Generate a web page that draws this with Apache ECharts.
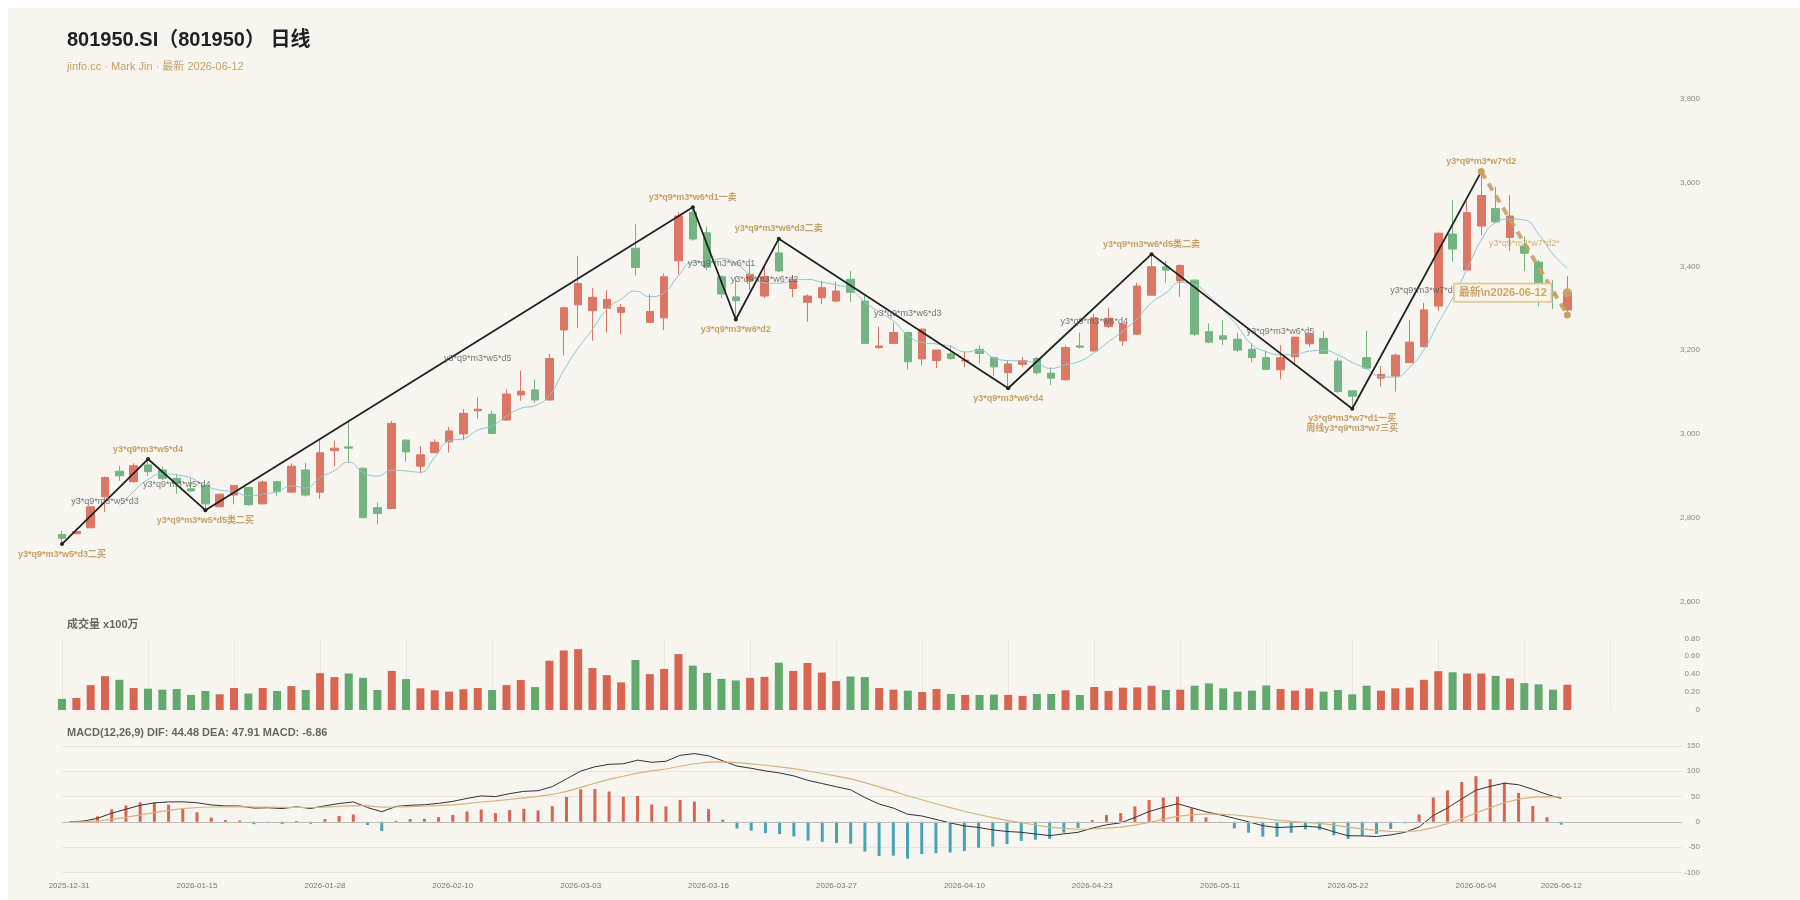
<!DOCTYPE html>
<html><head><meta charset="utf-8">
<script src="https://cdn.jsdelivr.net/npm/echarts/dist/echarts.min.js"></script>
<style>
html,body{margin:0;padding:0;background:#fff;overflow:hidden;}
#c{position:absolute;left:8px;top:8px;width:1792px;height:892px;background:#f7f5f0;}
</style></head><body><div id="c"></div>
<script>
// ---------- data ----------
const dates = [
'2025-12-31',
'2026-01-05','2026-01-06','2026-01-07','2026-01-08','2026-01-09',
'2026-01-12','2026-01-13','2026-01-14','2026-01-15','2026-01-16',
'2026-01-19','2026-01-20','2026-01-21','2026-01-22','2026-01-23',
'2026-01-26','2026-01-27','2026-01-28','2026-01-29','2026-01-30',
'2026-02-02','2026-02-03','2026-02-04','2026-02-05','2026-02-06',
'2026-02-09','2026-02-10','2026-02-11','2026-02-12','2026-02-13',
'2026-02-24','2026-02-25','2026-02-26','2026-02-27',
'2026-03-02','2026-03-03','2026-03-04','2026-03-05','2026-03-06',
'2026-03-09','2026-03-10','2026-03-11','2026-03-12','2026-03-13',
'2026-03-16','2026-03-17','2026-03-18','2026-03-19','2026-03-20',
'2026-03-23','2026-03-24','2026-03-25','2026-03-26','2026-03-27',
'2026-03-30','2026-03-31',
'2026-04-01','2026-04-02','2026-04-03',
'2026-04-07','2026-04-08','2026-04-09','2026-04-10',
'2026-04-13','2026-04-14','2026-04-15','2026-04-16','2026-04-17',
'2026-04-20','2026-04-21','2026-04-22','2026-04-23','2026-04-24',
'2026-04-27','2026-04-28','2026-04-29','2026-04-30',
'2026-05-06','2026-05-07','2026-05-08',
'2026-05-11','2026-05-12','2026-05-13','2026-05-14','2026-05-15',
'2026-05-18','2026-05-19','2026-05-20','2026-05-21','2026-05-22',
'2026-05-25','2026-05-26','2026-05-27','2026-05-28','2026-05-29',
'2026-06-01','2026-06-02','2026-06-03','2026-06-04','2026-06-05',
'2026-06-08','2026-06-09','2026-06-10','2026-06-11','2026-06-12'
];
const padCount = 8;

const opens = [
2760,2762,2776,2850,2911,2886,2926,2914,2894,2869,
2876,2826,2854,2872,2833,2886,2861,2914,2861,2960,
2969,2918,2824,2822,2985,2923,2955,2981,3000,3055,
3047,3033,3093,3105,3081,3248,3308,3294,3300,3290,
3443,3266,3277,3413,3529,3480,3375,3327,3366,3329,
3432,3347,3314,3325,3317,3369,3317,3206,3216,3242,
3179,3175,3191,3174,3202,3182,3146,3166,3180,3145,
3129,3210,3198,3256,3222,3238,3331,3399,3365,3367,
3244,3234,3226,3202,3182,3153,3184,3215,3228,3174,
3103,3182,3133,3138,3170,3208,3305,3477,3391,3496,
3538,3469,3448,3410,3336,3296
];
const closes = [
2751,2767,2826,2896,2900,2924,2910,2894,2882,2864,
2833,2856,2877,2831,2885,2862,2923,2854,2955,2966,
2966,2800,2810,3025,2957,2950,2980,3007,3049,3059,
3001,3095,3102,3081,3180,3301,3359,3326,3321,3302,
3397,3292,3375,3520,3465,3398,3334,3318,3381,3375,
3389,3369,3329,3349,3341,3338,3216,3210,3242,3172,
3250,3200,3180,3176,3192,3160,3167,3175,3146,3133,
3206,3207,3277,3276,3262,3353,3399,3391,3402,3238,
3219,3226,3200,3182,3154,3182,3231,3238,3192,3101,
3090,3157,3142,3188,3219,3296,3479,3441,3528,3569,
3506,3520,3431,3358,3330,3337
];
const lows = [
2737,2760,2775,2814,2888,2883,2899,2890,2857,2862,
2818,2825,2832,2828,2832,2852,2860,2850,2845,2923,
2930,2798,2784,2821,2934,2906,2954,2955,2985,3037,
3000,3031,3079,3074,3079,3187,3253,3222,3242,3238,
3378,3266,3248,3381,3461,3390,3324,3273,3343,3324,
3387,3326,3268,3310,3314,3315,3215,3203,3215,3154,
3163,3157,3176,3159,3168,3138,3109,3159,3141,3117,
3127,3204,3196,3253,3210,3236,3331,3361,3327,3234,
3216,3212,3196,3171,3152,3130,3164,3208,3191,3097,
3060,3154,3113,3101,3170,3207,3293,3411,3389,3475,
3503,3437,3389,3305,3298,3284
];
const highs = [
2769,2776,2828,2898,2924,2930,2940,2922,2904,2894,
2878,2858,2877,2873,2889,2888,2930,2931,2985,2984,
3029,2920,2836,3031,2987,2971,2987,3017,3059,3087,
3055,3106,3151,3130,3191,3304,3425,3348,3343,3310,
3501,3333,3383,3529,3541,3495,3379,3375,3403,3401,
3466,3379,3333,3365,3363,3389,3331,3256,3266,3244,
3252,3200,3212,3196,3212,3184,3176,3183,3184,3159,
3211,3242,3286,3301,3264,3361,3429,3413,3405,3369,
3264,3272,3242,3216,3199,3212,3232,3240,3246,3182,
3103,3246,3162,3192,3272,3313,3480,3558,3555,3626,
3590,3570,3472,3415,3367,3377
];
// 成交量 (x100万)
const volumes = [
0.124,0.135,0.278,0.378,0.337,0.245,0.238,0.227,0.234,0.168,
0.212,0.176,0.245,0.183,0.245,0.212,0.267,0.223,0.411,0.367,
0.407,0.359,0.223,0.436,0.345,0.242,0.220,0.205,0.231,0.245,
0.223,0.278,0.334,0.256,0.550,0.664,0.679,0.469,0.389,0.308,
0.558,0.400,0.458,0.624,0.495,0.414,0.348,0.330,0.359,0.370,
0.528,0.436,0.525,0.418,0.323,0.374,0.367,0.245,0.227,0.216,
0.201,0.234,0.179,0.168,0.168,0.172,0.168,0.157,0.179,0.179,
0.220,0.168,0.256,0.212,0.249,0.252,0.271,0.223,0.227,0.271,
0.297,0.242,0.205,0.216,0.274,0.234,0.216,0.242,0.205,0.223,
0.175,0.271,0.216,0.242,0.249,0.337,0.433,0.421,0.407,0.407,
0.381,0.352,0.300,0.286,0.227,0.282
];

// 笔 (zigzag) pivots
const pivotIdx  = [0, 6, 10, 44, 47, 50, 66, 76, 90, 99];
const pivotKind = ['low','high','low','high','low','high','low','high','low','high'];
const pivotText = [
'y3*q9*m3*w5*d3二买','y3*q9*m3*w5*d4','y3*q9*m3*w5*d5类二买',
'y3*q9*m3*w6*d1一卖','y3*q9*m3*w6*d2','y3*q9*m3*w6*d3二卖',
'y3*q9*m3*w6*d4','y3*q9*m3*w6*d5类二卖',
'y3*q9*m3*w7*d1一买\n周线y3*q9*m3*w7三买','y3*q9*m3*w7*d2'
];
const segText = [
'y3*q9*m3*w5*d3','y3*q9*m3*w5*d4','y3*q9*m3*w5*d5','y3*q9*m3*w6*d1',
'y3*q9*m3*w6*d2','y3*q9*m3*w6*d3','y3*q9*m3*w6*d4','y3*q9*m3*w6*d5','y3*q9*m3*w7*d1'
];
const segLabelIdx = [3, 8, 29, 46, 49, 59, 72, 85, 95];
// pending stroke (dashed)
const pendingIdx = [99, 105];
const pendingText = 'y3*q9*m3*w7*d2*';
const pendingLabelIdx = 102;
const latestText = '最新\\n2026-06-12';

const priceTicks = [2600, 3800, 200];
const volTicks = [0, 0.8, 0.2];
const macdTicks = [-100, 150, 50];

const titleText = '801950.SI（801950） 日线';
const subText = 'jinfo.cc · Mark Jin · 最新 2026-06-12';
const volTitle = '成交量 x100万';
const macdTitle = 'MACD(12,26,9) DIF: 44.48 DEA: 47.91 MACD: -6.86';

// ---------- derived ----------
const N = dates.length;
const cats = dates.concat(new Array(padCount).fill(''));
const pivotVal = pivotIdx.map((i,k)=> pivotKind[k]==='high' ? highs[i] : lows[i]);
const ohlc = opens.map((o,i)=>[o, closes[i], lows[i], highs[i]]);
const ma5 = closes.map((c,i)=>{ if(i<4) return null; let s=0; for(let j=i-4;j<=i;j++) s+=closes[j]; return +(s/5).toFixed(2); });
function ema(arr,n){const k=2/(n+1);const out=[];arr.forEach((v,i)=>out.push(i===0?v:out[i-1]+k*(v-out[i-1])));return out;}
const e12=ema(closes,12), e26=ema(closes,26);
const dif=closes.map((_,i)=>e12[i]-e26[i]);
const dea=ema(dif,9);
const hist=dif.map((d,i)=>2*(d-dea[i]));

const UP='#db7764', DOWN='#74b482';
const VUP='#d8654f', VDOWN='#62a96e';
const GOLD='#c8a062';
const FONT='"Liberation Sans", Arial, "Noto Sans CJK SC", sans-serif';

const chart = echarts.init(document.getElementById('c'), null, {renderer:'canvas'});

const gridL = 54, gridR = 118;
const axisLabelY = {fontSize:8, color:'#888', align:'right', margin:18, fontFamily:FONT};

const zig = pivotIdx.map((i,k)=>({
  value:[i, pivotVal[k]],
  label:{show:true, position: pivotKind[k]==='high'?'top':'bottom', distance:3,
    formatter: pivotText[k], color:GOLD, fontWeight:'bold', fontSize:9, lineHeight:10, fontFamily:FONT}
}));
const segLabels = segLabelIdx.map((x,k)=>({value:[x,(pivotVal[k]+pivotVal[k+1])/2], name:segText[k]}));
const pendData = pendingIdx.map((i,k)=>[i, k===0 ? highs[i] : lows[i]]);

const option = {
  animation:false,
  backgroundColor:'#f7f5f0',
  textStyle:{fontFamily:FONT},
  graphic:[
    {type:'text', x:59, y:32, style:{text:titleText, font:'bold 20px '+FONT, fill:'#222', verticalAlign:'middle'}},
    {type:'text', x:59, y:58.5, style:{text:subText, font:'11px '+FONT, fill:GOLD, verticalAlign:'middle'}},
    {type:'text', x:59, y:617, style:{text:volTitle, font:'bold 11px '+FONT, fill:'#666', verticalAlign:'middle'}},
    {type:'text', x:59, y:725, style:{text:macdTitle, font:'bold 11px '+FONT, fill:'#666', verticalAlign:'middle'}}
  ],
  grid:[
    {left:gridL, right:gridR, top:90.7, height:502.8},
    {left:gridL, right:gridR, top:630.3, height:71.7},
    {left:gridL, right:gridR, top:738, height:126.3}
  ],
  xAxis:[
    {type:'category', gridIndex:0, data:cats, boundaryGap:false, axisLine:{show:false}, axisTick:{show:false}, axisLabel:{show:false}, splitLine:{show:false}},
    {type:'category', gridIndex:1, data:cats, boundaryGap:false, axisLine:{show:false}, axisTick:{show:false}, axisLabel:{show:false},
      splitLine:{show:true, interval:5, lineStyle:{color:'#e9e7e1', width:1}}},
    {type:'category', gridIndex:2, data:cats, boundaryGap:true, axisLine:{show:false}, axisTick:{show:false},
      axisLabel:{show:true, fontSize:8, color:'#777', margin:9, fontFamily:FONT,
        interval:(i)=> (i<N && i%9===0) || i===N-1}, splitLine:{show:false}}
  ],
  yAxis:[
    {type:'value', gridIndex:0, position:'right', min:priceTicks[0], max:priceTicks[1], interval:priceTicks[2], scale:true,
      axisLine:{show:false}, axisTick:{show:false}, splitLine:{show:false},
      axisLabel:Object.assign({formatter:(v)=>v.toLocaleString('en-US')}, axisLabelY)},
    {type:'value', gridIndex:1, position:'right', min:volTicks[0], max:volTicks[1], interval:volTicks[2],
      axisLine:{show:false}, axisTick:{show:false}, splitLine:{show:false},
      axisLabel:Object.assign({formatter:(v)=> v===0?'0':v.toFixed(2)}, axisLabelY)},
    {type:'value', gridIndex:2, position:'right', min:macdTicks[0], max:macdTicks[1], interval:macdTicks[2],
      axisLine:{show:false}, axisTick:{show:false}, splitLine:{show:true, lineStyle:{color:'#e6e4de', width:1}},
      axisLabel:axisLabelY}
  ],
  series:[
    {type:'candlestick', name:'K', xAxisIndex:0, yAxisIndex:0, data:ohlc, barWidth:8, z:2,
      itemStyle:{color:UP, color0:DOWN, borderColor:UP, borderColor0:DOWN, borderWidth:1}},
    {type:'line', name:'MA5', xAxisIndex:0, yAxisIndex:0, data:ma5, smooth:true, showSymbol:false, z:3,
      lineStyle:{color:'#8cc5d2', width:1}},
    {type:'line', name:'bi', xAxisIndex:0, yAxisIndex:0, data:zig, z:5,
      symbol:'circle', symbolSize:4, itemStyle:{color:'#222'}, lineStyle:{color:'#222', width:1.8}},
    {type:'scatter', name:'segLabel', xAxisIndex:0, yAxisIndex:0, data:segLabels, symbolSize:0, z:6, silent:true,
      label:{show:true, position:'inside', formatter:(p)=>p.name, color:'#555', fontSize:9, fontFamily:FONT}},
    {type:'line', name:'pending', xAxisIndex:0, yAxisIndex:0, data:pendData, z:7,
      symbol:'circle', symbolSize:7, itemStyle:{color:GOLD},
      lineStyle:{color:GOLD, width:4, type:[8,6], opacity:0.9}},
    {type:'scatter', name:'pendingLabel', xAxisIndex:0, yAxisIndex:0, data:[[pendingLabelIdx,(pendData[0][1]+pendData[1][1])/2]],
      symbolSize:0, z:8, silent:true,
      label:{show:true, position:'inside', formatter:pendingText, color:GOLD, fontSize:9, fontFamily:FONT}},
    {type:'scatter', name:'latest', xAxisIndex:0, yAxisIndex:0, data:[[N-1, closes[N-1]]], symbolSize:9, z:9,
      itemStyle:{color:GOLD, opacity:0.95},
      label:{show:true, position:'left', distance:12, formatter:latestText, color:GOLD, fontWeight:'bold', fontSize:11,
        fontFamily:FONT, backgroundColor:'rgba(250,245,232,0.9)', borderColor:'#dcc391', borderWidth:1.5, padding:[3,4,3,4]}},
    {type:'bar', name:'VOL', xAxisIndex:1, yAxisIndex:1, barWidth:8,
      data:volumes.map((v,i)=>({value:v, itemStyle:{color: closes[i]>=opens[i]?VUP:VDOWN}}))},
    {type:'bar', name:'MACD', xAxisIndex:2, yAxisIndex:2, barWidth:3,
      data:hist.map(v=>({value:+v.toFixed(2), itemStyle:{color: v>=0?'#d8654f':'#4aa2b4'}})),
      markLine:{silent:true, symbol:'none', label:{show:false}, lineStyle:{color:'#bdbbb5', width:1, type:'solid'}, data:[{yAxis:0}]}},
    {type:'line', name:'DIF', xAxisIndex:2, yAxisIndex:2, data:dif.map(v=>+v.toFixed(2)), showSymbol:false, symbol:'none',
      lineStyle:{color:'#333', width:1}},
    {type:'line', name:'DEA', xAxisIndex:2, yAxisIndex:2, data:dea.map(v=>+v.toFixed(2)), showSymbol:false, symbol:'none',
      lineStyle:{color:'#d9b27c', width:1.2}}
  ]
};
chart.setOption(option);
</script></body></html>
